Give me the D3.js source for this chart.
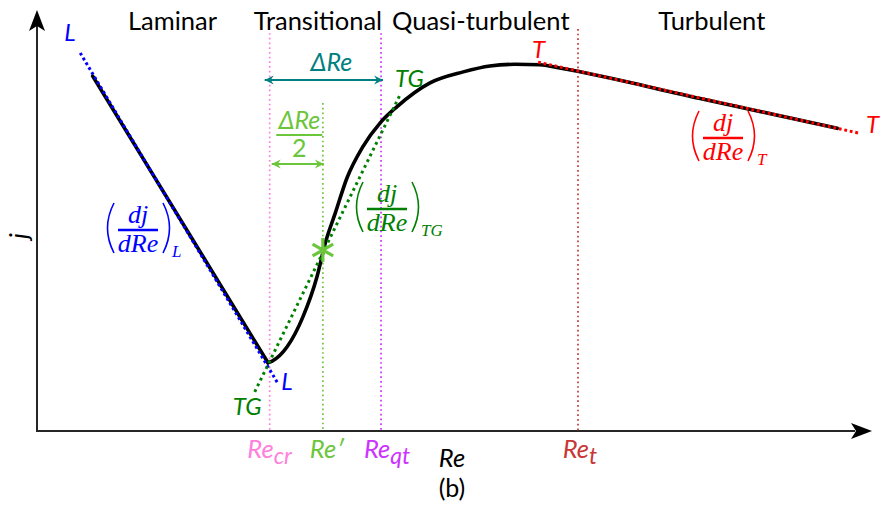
<!DOCTYPE html>
<html><head><meta charset="utf-8">
<title>j versus Re</title>
<script src="https://cdnjs.cloudflare.com/ajax/libs/d3/7.8.5/d3.min.js"></script>
<style>
body { margin: 0; background: #fff; }
svg { display: block; }
text { font-family: Lato, 'Open Sans', sans-serif; }
.it { font-style: italic; }
text.math { font-family: 'Liberation Serif', 'DejaVu Serif', serif; font-style: italic; }
</style>
</head>
<body>
<div class="chart"></div>
<script>
const W = 881, H = 506;

// flow regimes written across the top
const regimes = ["Laminar", "Transitional", "Quasi-turbulent", "Turbulent"];
const regimeRe = [16.3, 33.8, 53.4, 81.2];

// marked Reynolds numbers on the Re axis
const markSub = ["cr", "", "qt", "t"];
const markRe = [28.0, 34.4, 41.4, 65.1];
const markTop = [94.5, 77.9, 94.5, 95.5];
const markColors = ["#ff80dc", "#6cc63c", "#cc33ff", "#c83737"];

// j(Re) curve, arbitrary units
const lamRe = [6.7, 27.8];
const lamJ = [84.3, 16.2];
const curveRe = [27.8, 28.3, 30.1, 32.0, 33.7, 34.7, 35.9, 37.3, 39.2, 41.3, 43.3, 47.3, 51.3, 54.5, 57.5, 60.5, 62.9, 79.8, 96.3];
const curveJ = [16.2, 16.6, 20.0, 27.1, 36.7, 44.7, 51.8, 60.1, 67.5, 73.2, 77.0, 82.7, 85.3, 86.7, 87.1, 87.0, 86.2, 79.0, 71.9];

// fitted slopes: L (laminar), TG (transition gradient), T (turbulent)
const tangentNames = ["L", "TG", "T"];
const tangentRe = [[5.2, 28.9], [26.2, 43.8], [60.3, 98.8]];
const tangentJ = [[89.8, 11.6], [9.3, 80.3], [87.6, 70.8]];
const tangentColors = ["#0000ff", "#008000", "#ff0000"];

// the inflection point at Re'
const starRe = 34.4, starJ = 43.0;
// heights of the ΔRe and ΔRe/2 arrows
const deltaJ = [83.4, 63.4];

const x = d3.scaleLinear().domain([0, 100]).range([37, 868]);
const y = d3.scaleLinear().domain([0, 100]).range([431, 10]);

const svg = d3.select(".chart").append("svg")
    .attr("width", W).attr("height", H);

const defs = svg.append("defs");
function vArrow(id, color) {
  defs.append("marker")
      .attr("id", id)
      .attr("viewBox", "-10 -6 12 12")
      .attr("markerWidth", 12).attr("markerHeight", 12)
      .attr("markerUnits", "userSpaceOnUse")
      .attr("orient", "auto-start-reverse")
    .append("path")
      .attr("d", "M-9,-4.5L0,0L-9,4.5L-6,0Z")
      .attr("fill", color);
}
vArrow("arTeal", "#008080");
vArrow("arGreen", "#6cc63c");

// axes with notched arrow heads
const axis = svg.append("g").attr("stroke", "#262626").attr("fill", "#000");
axis.append("line").attr("x1", x(0)).attr("y1", y(0)).attr("x2", 855).attr("y2", y(0)).attr("stroke-width", 2);
axis.append("line").attr("x1", x(0)).attr("y1", y(0) + 1).attr("x2", x(0)).attr("y2", 25).attr("stroke-width", 2);
axis.append("path").attr("stroke", "none")
    .attr("d", `M872,${y(0)}L851,${y(0) - 8}L856,${y(0)}L851,${y(0) + 8}Z`);
axis.append("path").attr("stroke", "none")
    .attr("d", `M${x(0)},10L${x(0) - 8},31L${x(0)},26L${x(0) + 8},31Z`);

// vertical dotted markers
svg.append("g").selectAll("line").data(markRe).join("line")
    .attr("x1", d => x(d)).attr("x2", d => x(d))
    .attr("y1", (d, i) => y(markTop[i])).attr("y2", y(0))
    .attr("stroke", (d, i) => markColors[i])
    .attr("stroke-width", 1.7)
    .attr("stroke-dasharray", "1.7,3");

// regime titles
svg.append("g").selectAll("text").data(regimes).join("text")
    .attr("x", (d, i) => x(regimeRe[i]))
    .attr("y", 30)
    .attr("text-anchor", "middle")
    .attr("font-size", 25.5)
    .attr("fill", "#000")
    .text(d => d);

// the curve
const line = d3.line().x(d => x(d[0])).y(d => y(d[1]));
svg.append("path")
    .attr("d", line(d3.zip(lamRe, lamJ)))
    .attr("fill", "none").attr("stroke", "#000").attr("stroke-width", 3.6)
    .attr("stroke-linecap", "round");
svg.append("path")
    .attr("d", line.curve(d3.curveMonotoneX)(d3.zip(curveRe, curveJ)))
    .attr("fill", "none").attr("stroke", "#000").attr("stroke-width", 3.6)
    .attr("stroke-linecap", "round").attr("stroke-linejoin", "round");
line.curve(d3.curveLinear);

// tangent lines, dotted on top
svg.append("g").selectAll("path").data(tangentNames).join("path")
    .attr("d", (d, i) => line(d3.zip(tangentRe[i], tangentJ[i])))
    .attr("fill", "none")
    .attr("stroke", (d, i) => tangentColors[i])
    .attr("stroke-width", 3)
    .attr("stroke-dasharray", (d, i) => i === 1 ? "2.8,3.6" : "2.8,2.8");

// asterisk at Re'
svg.append("path")
    .attr("transform", `translate(${x(starRe)},${y(starJ)})`)
    .attr("d", d3.symbol(d3.symbolAsterisk, 400)())
    .attr("fill", "none").attr("stroke", "#6cc63c").attr("stroke-width", 3.2);

// tangent end labels
const lbl = svg.append("g").attr("class", "it").attr("font-size", 24);
function label(txt, re, j, dx, dy, color) {
  lbl.append("text").attr("x", x(re) + dx).attr("y", y(j) + dy)
      .attr("fill", color).text(txt);
}
label("L", tangentRe[0][0], tangentJ[0][0], -16, -12, tangentColors[0]);
label("L", tangentRe[0][1], tangentJ[0][1], 4, 8, tangentColors[0]);
label("TG", tangentRe[1][0], tangentJ[1][0], -22, 23, tangentColors[1]);
label("TG", tangentRe[1][1], tangentJ[1][1], -6, -6, tangentColors[1]);
label("T", tangentRe[2][0], tangentJ[2][0], -6, -4, tangentColors[2]);
label("T", tangentRe[2][1], tangentJ[2][1], 8, 0, tangentColors[2]);

// ΔRe arrows
svg.append("line")
    .attr("x1", x(markRe[0]) - 5).attr("x2", x(markRe[2]) + 2)
    .attr("y1", y(deltaJ[0])).attr("y2", y(deltaJ[0]))
    .attr("stroke", "#008080").attr("stroke-width", 2)
    .attr("marker-start", "url(#arTeal)").attr("marker-end", "url(#arTeal)");
svg.append("text").attr("class", "it")
    .attr("x", (x(markRe[0]) + x(markRe[2])) / 2 + 6).attr("y", y(deltaJ[0]) - 9)
    .attr("text-anchor", "middle").attr("font-size", 25).attr("fill", "#008080")
    .text("ΔRe");
svg.append("line")
    .attr("x1", x(markRe[0]) + 2).attr("x2", x(markRe[1]) + 1)
    .attr("y1", y(deltaJ[1])).attr("y2", y(deltaJ[1]))
    .attr("stroke", "#6cc63c").attr("stroke-width", 2)
    .attr("marker-start", "url(#arGreen)").attr("marker-end", "url(#arGreen)");
const half = svg.append("g").attr("fill", "#6cc63c").attr("font-size", 25)
    .attr("transform", `translate(${(x(markRe[0]) + x(markRe[1])) / 2 + 3},135)`);
half.append("text").attr("class", "it").attr("text-anchor", "middle").attr("y", -6).text("ΔRe");
half.append("line").attr("x1", -23).attr("x2", 23).attr("stroke", "#6cc63c").attr("stroke-width", 2);
half.append("text").attr("text-anchor", "middle").attr("y", 22).text("2");

// slope formulas (dj/dRe)
function slope(cx, cy, color, sub) {
  const g = svg.append("g").attr("transform", `translate(${cx},${cy})`)
      .attr("fill", color);
  g.append("text").attr("class", "math").attr("text-anchor", "middle")
      .attr("font-size", 26).attr("y", -7).text("dj");
  g.append("line").attr("x1", -20).attr("x2", 20)
      .attr("stroke", color).attr("stroke-width", 2.4);
  g.append("text").attr("class", "math").attr("text-anchor", "middle")
      .attr("font-size", 26).attr("y", 22).text("dRe");
  g.append("path").attr("d", "M-24,-27Q-37,-2,-24,23")
      .attr("fill", "none").attr("stroke", color).attr("stroke-width", 1.6);
  g.append("path").attr("d", "M25,-27Q38,-2,25,23")
      .attr("fill", "none").attr("stroke", color).attr("stroke-width", 1.6);
  g.append("text").attr("class", "math").attr("x", 34).attr("y", 27)
      .attr("font-size", 17).text(sub);
}
slope(138, 230, tangentColors[0], "L");
slope(387, 209, tangentColors[1], "TG");
slope(723, 138, tangentColors[2], "T");

// marker labels under the axis
const ml = svg.append("g").attr("class", "it");
markRe.forEach((re, i) => {
  const t = ml.append("text")
      .attr("x", x(re) + [0, 4, 6, 2][i])
      .attr("y", 458)
      .attr("text-anchor", "middle")
      .attr("font-size", 25.5)
      .attr("fill", markColors[i]);
  t.append("tspan").text(markSub[i] ? "Re" : "Re′");
  if (markSub[i]) t.append("tspan").attr("dy", 6).attr("font-size", 23).text(markSub[i]);
});

// axis titles
svg.append("text").attr("class", "it")
    .attr("x", 452).attr("y", 467).attr("text-anchor", "middle")
    .attr("font-size", 25.5).text("Re");
svg.append("text")
    .attr("x", 452).attr("y", 497).attr("text-anchor", "middle")
    .attr("font-size", 25).text("(b)");
svg.append("text").attr("class", "it")
    .attr("transform", "translate(28,236) rotate(-90)")
    .attr("text-anchor", "middle").attr("font-size", 26).text("j");
</script>
</body>
</html>
